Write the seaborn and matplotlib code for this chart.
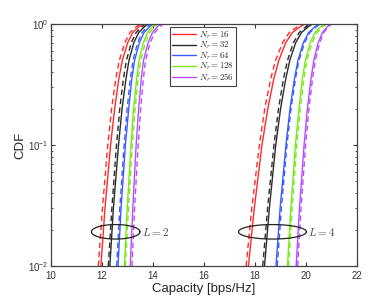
import numpy as np
import pandas as pd
import matplotlib
matplotlib.use("Agg")
import matplotlib.pyplot as plt
import seaborn as sns
from matplotlib.lines import Line2D
from matplotlib.font_manager import FontProperties

# CDF levels at which the curve positions were read
cdf_levels = [0.01, 0.03, 0.1, 0.2, 0.35, 0.5, 0.7, 0.85, 0.95, 1.0]
nr_values = [16, 32, 64, 128, 256]
colors = ["#ff2a2a", "#2b2b2b", "#3a5cff", "#7ae81a", "#b84cff"]

# L = 2, solid curves (one row per Nr)
l2_solid = [
    [11.96, 12.12, 12.34, 12.50, 12.66, 12.80, 13.01, 13.21, 13.46, 13.60],
    [12.31, 12.45, 12.65, 12.79, 12.94, 13.06, 13.25, 13.44, 13.67, 13.80],
    [12.63, 12.75, 12.92, 13.05, 13.17, 13.28, 13.47, 13.65, 13.87, 14.00],
    [12.88, 12.99, 13.14, 13.24, 13.36, 13.45, 13.62, 13.79, 13.98, 14.10],
    [13.11, 13.21, 13.34, 13.44, 13.54, 13.63, 13.81, 13.98, 14.18, 14.30],
]
# L = 2, dashed curves
l2_dashed = [
    [11.86, 12.02, 12.23, 12.38, 12.54, 12.68, 12.90, 13.10, 13.35, 13.50],
    [12.25, 12.39, 12.57, 12.70, 12.84, 12.96, 13.15, 13.34, 13.57, 13.70],
    [12.58, 12.70, 12.87, 12.99, 13.11, 13.22, 13.40, 13.57, 13.78, 13.90],
    [12.92, 13.04, 13.19, 13.30, 13.42, 13.52, 13.70, 13.87, 14.08, 14.20],
    [13.18, 13.28, 13.42, 13.52, 13.62, 13.71, 13.89, 14.07, 14.28, 14.40],
]
# L = 4, solid curves
l4_solid = [
    [17.74, 17.97, 18.27, 18.50, 18.73, 18.93, 19.20, 19.46, 19.77, 19.95],
    [18.37, 18.56, 18.81, 19.00, 19.20, 19.36, 19.59, 19.82, 20.09, 20.25],
    [18.82, 18.98, 19.21, 19.37, 19.54, 19.68, 19.89, 20.10, 20.35, 20.50],
    [19.27, 19.40, 19.58, 19.72, 19.85, 19.97, 20.16, 20.35, 20.57, 20.70],
    [19.61, 19.74, 19.92, 20.05, 20.19, 20.30, 20.47, 20.64, 20.83, 20.95],
]
# L = 4, dashed curves
l4_dashed = [
    [17.65, 17.87, 18.17, 18.38, 18.61, 18.80, 19.08, 19.34, 19.66, 19.85],
    [18.30, 18.49, 18.74, 18.92, 19.11, 19.27, 19.50, 19.73, 19.99, 20.15],
    [18.87, 19.03, 19.25, 19.41, 19.58, 19.72, 19.94, 20.15, 20.40, 20.55],
    [19.31, 19.45, 19.63, 19.77, 19.91, 20.03, 20.23, 20.43, 20.66, 20.80],
    [19.67, 19.80, 19.98, 20.11, 20.25, 20.36, 20.53, 20.69, 20.89, 21.00],
]
# x where the flat part at CDF = 1 ends
l2_end = 15.0
l4_end = 21.0

# ellipse markers: centre (x, cdf) and half widths
ell_x = [12.54, 18.68]
ell_y = [0.0192, 0.0192]
ell_w = [0.95, 1.33]
ell_labels = ["$L = 2$", "$L = 4$"]

rows = []
for L, groups, end in [(2, (l2_solid, l2_dashed), l2_end), (4, (l4_solid, l4_dashed), l4_end)]:
    for kind, curves in zip(["solid", "dashed"], groups):
        for nr, xs in zip(nr_values, curves):
            for x, c in zip(xs + [end], cdf_levels + [1.0]):
                rows.append({"capacity": x, "cdf": c, "Nr": nr, "kind": kind,
                             "unit": f"{L}-{kind}-{nr}"})
df = pd.DataFrame(rows)

sns.set_style("ticks")
plt.rcParams["font.family"] = ["Liberation Sans", "DejaVu Sans"]

fig = plt.figure(figsize=(3.74, 2.96), dpi=100)
ax = fig.add_axes([0.136, 0.101, 0.819, 0.818])

palette = dict(zip(nr_values, colors))
sns.lineplot(data=df, x="capacity", y="cdf", hue="Nr", style="kind", units="unit",
             estimator=None, sort=False, palette=palette,
             dashes={"solid": "", "dashed": (4, 2.5)}, linewidth=1.0,
             legend=False, ax=ax)

ax.set_yscale("log")
ax.set_xlim(10, 22)
ax.set_ylim(0.01, 1)
ax.set_xticks([10, 12, 14, 16, 18, 20, 22])
ax.set_xlabel("Capacity [bps/Hz]", fontsize=9.5, labelpad=1.5)
ax.set_ylabel("CDF", fontsize=9.5, labelpad=1)
ax.tick_params(which="both", direction="in", top=True, right=True,
               labelsize=7, colors="#333333", pad=2)
ax.tick_params(axis="x", pad=3.5)
ax.tick_params(which="major", length=3)
ax.tick_params(which="minor", length=1.5)
for s in ax.spines.values():
    s.set_color("#444444")
    s.set_linewidth(0.9)

cm = FontProperties(size=8, math_fontfamily="cm")
t = np.linspace(0, 2 * np.pi, 200)
for cx, cy, w, lab in zip(ell_x, ell_y, ell_w, ell_labels):
    ax.plot(cx + w * np.cos(t), 10 ** (np.log10(cy) + 0.06 * np.sin(t)),
            color="#222222", lw=0.9)
    ax.text(cx + w + 0.08, cy, lab, fontproperties=cm, color="#444444",
            va="center", ha="left")

handles = [Line2D([0], [0], color=c, lw=1.0) for c in colors]
labels = [f"$N_r = {n}$" for n in nr_values]
leg = ax.legend(handles, labels, loc="upper left", bbox_to_anchor=(0.389, 0.988),
                prop=FontProperties(size=6.3, math_fontfamily="cm"),
                frameon=True, fancybox=False, framealpha=1, edgecolor="#444444",
                handlelength=2.7, handletextpad=0.4, labelspacing=-0.1,
                borderpad=0.25, borderaxespad=0)
leg.get_frame().set_linewidth(0.8)

fig.savefig("out.png", dpi=100, facecolor="white")
plt.close(fig)
